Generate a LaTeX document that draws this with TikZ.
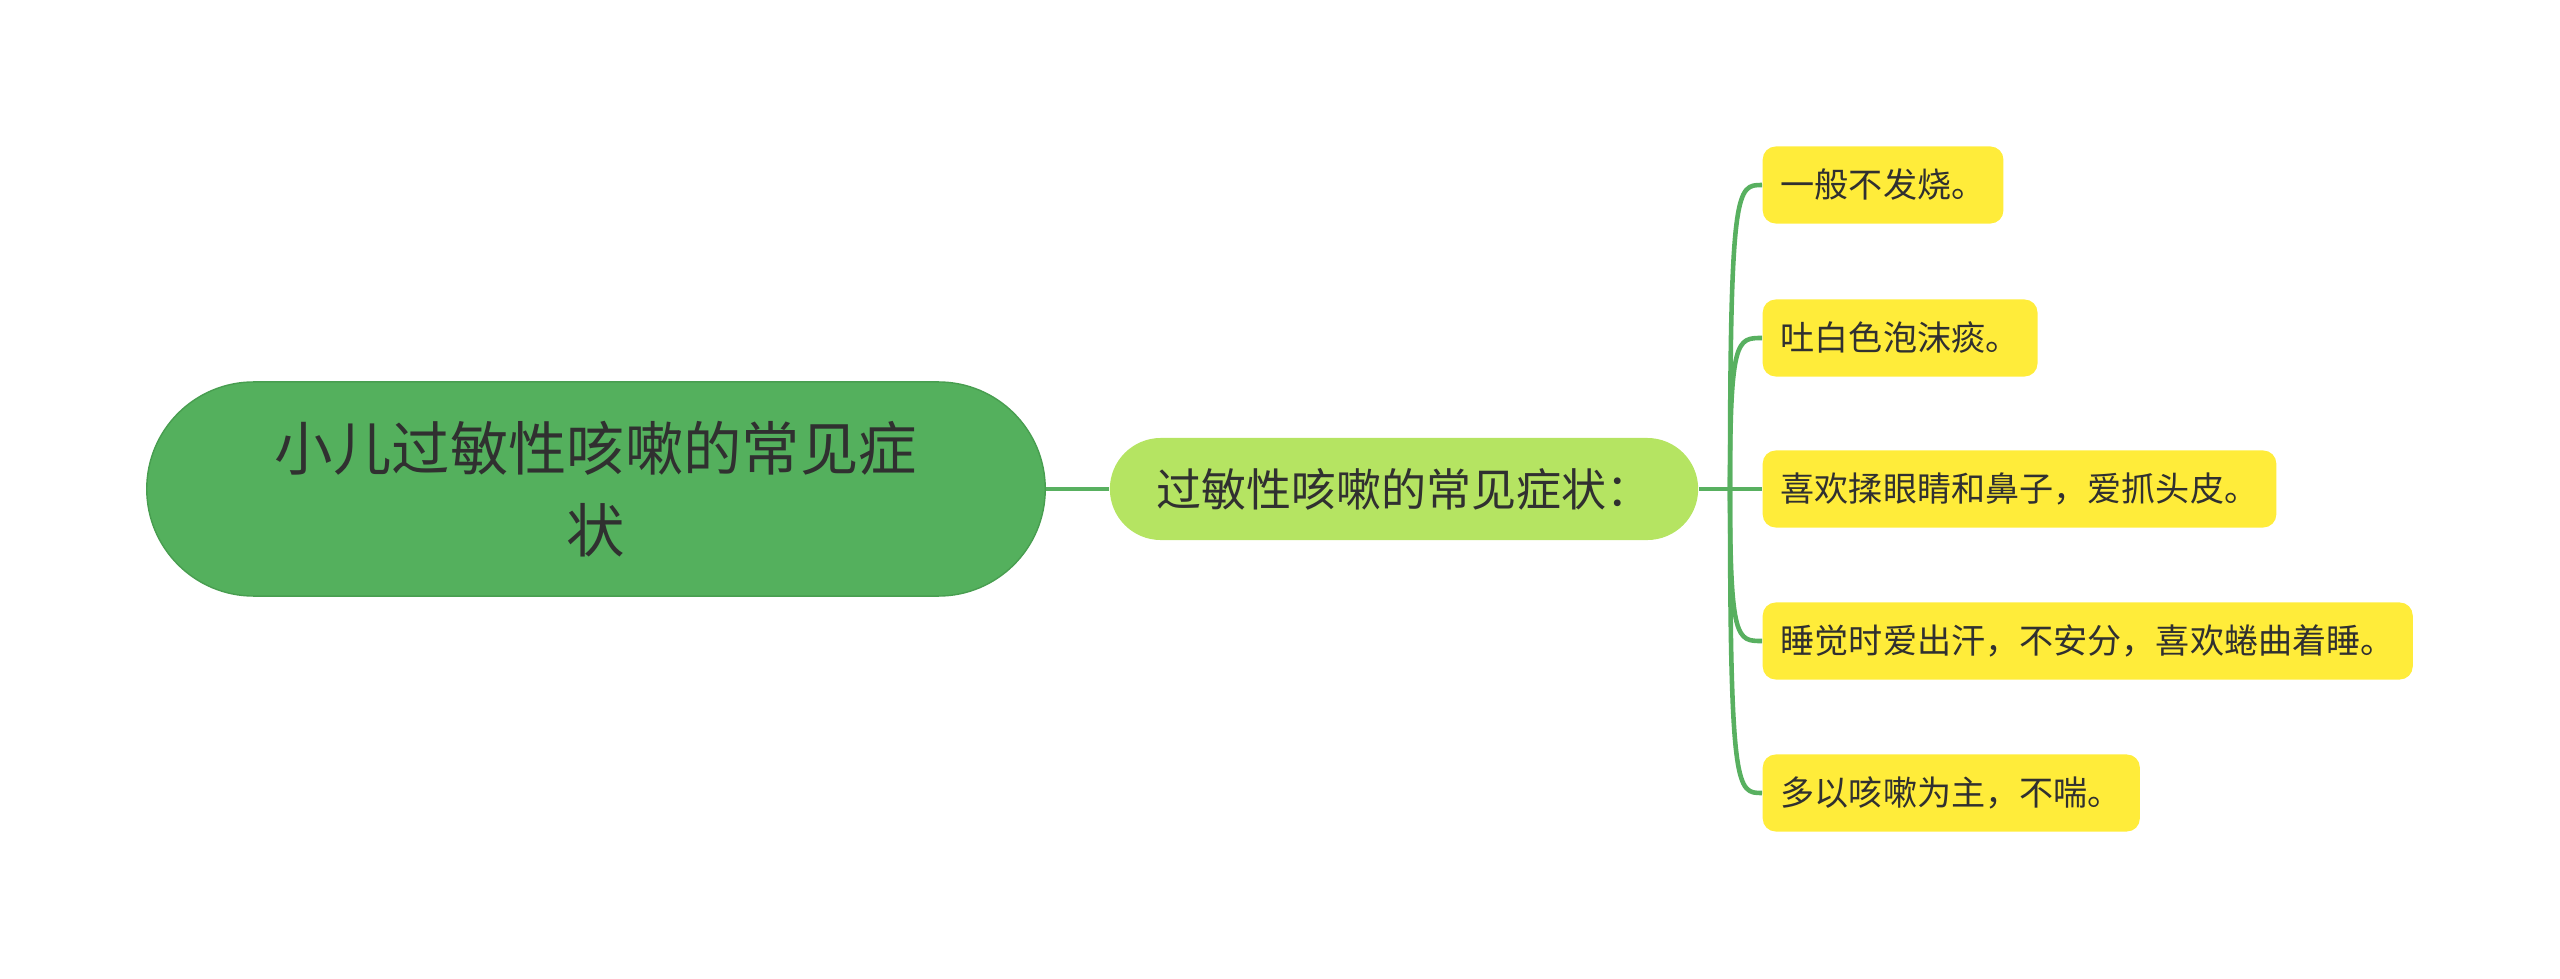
\documentclass[tikz,border=0pt]{standalone}
\usepackage{fontspec}
\usepackage{xcolor}
\usepackage{tikz}
\usetikzlibrary{positioning, calc}
\newfontfamily\cjk{Noto Sans CJK SC}
\definecolor{rootgreen}{RGB}{84,176,93}
\definecolor{rootedge}{RGB}{72,158,80}
\definecolor{midgreen}{RGB}{181,228,98}
\definecolor{leafyellow}{RGB}{255,236,58}
\definecolor{linegreen}{RGB}{88,176,96}
\definecolor{inkgray}{RGB}{48,48,48}
\tikzstyle{topic} = [rectangle, minimum width=8.98cm, minimum height=2.14cm, rounded corners=1.07cm, align=center, draw=rootedge, fill=rootgreen, text=inkgray, font=\cjk\fontsize{16.6}{23.2}\selectfont]
\tikzstyle{subtopic} = [rectangle, minimum width=5.88cm, minimum height=1.02cm, rounded corners=0.51cm, text centered, fill=midgreen, text=inkgray, font=\cjk\fontsize{12.8}{16}\selectfont]
\tikzstyle{item} = [rectangle, anchor=west, minimum height=0.77cm, inner xsep=0.18cm, rounded corners=0.13cm, fill=leafyellow, text=inkgray, font=\cjk\fontsize{9.7}{12}\selectfont]
\tikzstyle{branch} = [draw=linegreen, line width=1.3pt]

\begin{document}
\begin{tikzpicture}[x=0.01cm, y=-0.01cm]
    \useasboundingbox (0,0) rectangle (2560,979);

    % Root
    \node (root) [topic] at (596,489) {小儿过敏性咳嗽的常见症\\状};

    % Level 1
    \node (symptoms) [subtopic] at (1404,489) {过敏性咳嗽的常见症状：};
    \coordinate (fork) at (1730,489);

    % Level 2
    \node (fever) [item] at (1762,185) {一般不发烧。};
    \node (phlegm) [item] at (1762,338) {吐白色泡沫痰。};
    \node (rubbing) [item] at (1762,489) {喜欢揉眼睛和鼻子，爱抓头皮。};
    \node (sleep) [item] at (1762,641) {睡觉时爱出汗，不安分，喜欢蜷曲着睡。};
    \node (cough) [item] at (1762,793) {多以咳嗽为主，不喘。};

    % Connectors
    \draw [branch] (root) -- (symptoms);
    \draw [branch] (symptoms.east) -- (rubbing.west);
    \foreach \leaf in {fever, phlegm, sleep, cough}
        \draw [branch] (fork) .. controls (fork |- \leaf.west) and ([xshift=-0.25cm]\leaf.west) .. (\leaf.west);
\end{tikzpicture}
\end{document}
